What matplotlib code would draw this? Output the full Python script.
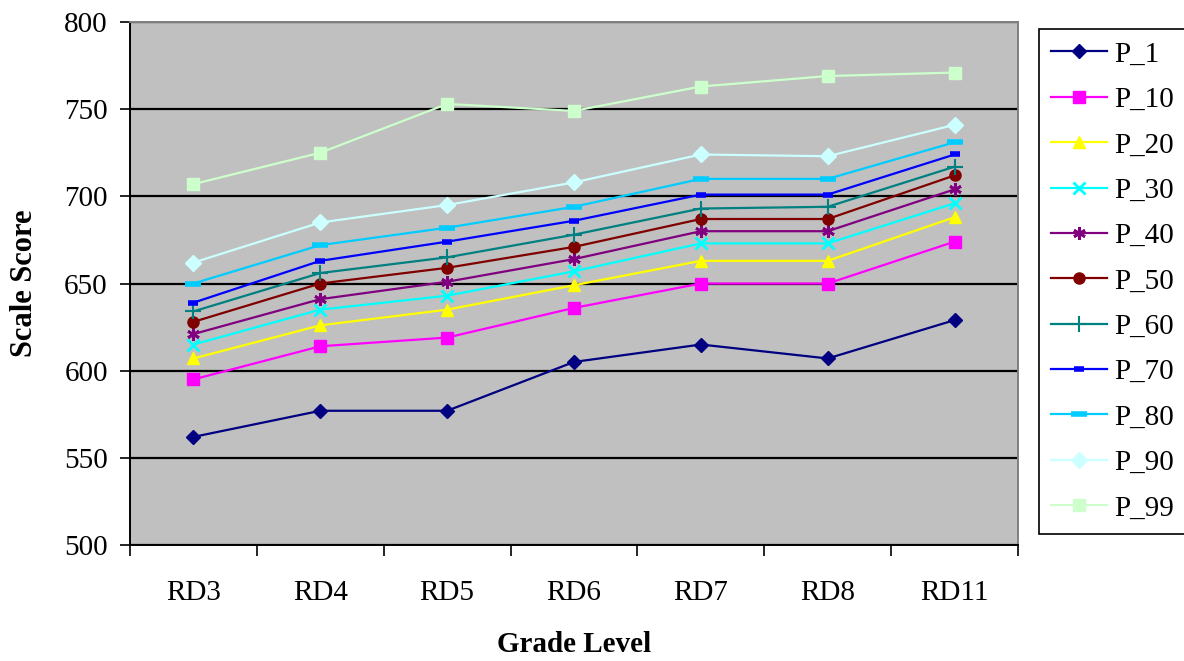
import numpy as np
import matplotlib
matplotlib.use("Agg")
import matplotlib.pyplot as plt

# grade levels on the x axis
grades = ["RD3", "RD4", "RD5", "RD6", "RD7", "RD8", "RD11"]

# percentile scale scores
p_1 = [562, 577, 577, 605, 615, 607, 629]
p_10 = [595, 614, 619, 636, 650, 650, 674]
p_20 = [607, 626, 635, 649, 663, 663, 688]
p_30 = [615, 635, 643, 657, 673, 673, 696]
p_40 = [621, 641, 651, 664, 680, 680, 704]
p_50 = [628, 650, 659, 671, 687, 687, 712]
p_60 = [634, 656, 665, 678, 693, 694, 717]
p_70 = [639, 663, 674, 686, 701, 701, 724]
p_80 = [650, 672, 682, 694, 710, 710, 731]
p_90 = [662, 685, 695, 708, 724, 723, 741]
p_99 = [707, 725, 753, 749, 763, 769, 771]

series_labels = ["P_1", "P_10", "P_20", "P_30", "P_40", "P_50",
                 "P_60", "P_70", "P_80", "P_90", "P_99"]
series_values = [p_1, p_10, p_20, p_30, p_40, p_50,
                 p_60, p_70, p_80, p_90, p_99]

# (colour, marker, marker size, marker edge width)
styles = [
    ("#000080", "D", 7, 1),
    ("#FF00FF", "s", 8, 1),
    ("#FFFF00", "^", 9, 1),
    ("#00FFFF", "x", 8, 2),
    ("#800080", (6, 2, 0), 9, 2),
    ("#800000", "o", 8, 1),
    ("#008080", "+", 11, 1.5),
    ("#0000FF", "_", 7, 4),
    ("#00CCFF", "_", 11, 4),
    ("#CCFFFF", "D", 8, 1),
    ("#CCFFCC", "s", 9, 1),
]

plt.rcParams["font.family"] = ["Liberation Serif", "DejaVu Serif"]

fig = plt.figure(figsize=(11.84, 6.61), dpi=100)
ax = fig.add_axes([130 / 1184, 1 - 545 / 661, 888 / 1184, 523 / 661])
ax.set_facecolor("#C0C0C0")

x = np.arange(len(grades))
for label, vals, (col, mk, ms, mew) in zip(series_labels, series_values, styles):
    ax.plot(x, vals, color=col, lw=1.6, marker=mk, markersize=ms,
            markerfacecolor=col, markeredgecolor=col, markeredgewidth=mew,
            label=label, zorder=3)

ax.set_xlim(-0.5, len(grades) - 0.5)
ax.set_ylim(500, 800)
ax.set_yticks(np.arange(500, 801, 50))
ax.yaxis.grid(True, color="black", lw=1.6)
ax.set_axisbelow(True)

ax.set_xticks(x)
ax.set_xticklabels(grades)
ax.set_xticks(np.arange(len(grades) + 1) - 0.5, minor=True)
ax.tick_params(axis="x", which="major", length=0, pad=25, labelsize=21)
ax.tick_params(axis="x", which="minor", length=8, width=1.2, direction="out")
ax.tick_params(axis="y", length=7, width=1.2, direction="out", labelsize=21, pad=9)

for side in ["left", "bottom"]:
    ax.spines[side].set_color("black")
    ax.spines[side].set_linewidth(1.4)
for side in ["top", "right"]:
    ax.spines[side].set_color("#808080")
    ax.spines[side].set_linewidth(1.4)

ax.set_ylabel("Scale Score", fontsize=22, fontweight="bold", labelpad=18)
ax.set_xlabel("Grade Level", fontsize=21, fontweight="bold", labelpad=18)

leg = ax.legend(loc="upper left", bbox_to_anchor=(1039 / 1184, 1 - 29 / 661),
                bbox_transform=fig.transFigure, borderaxespad=0,
                fontsize=21, handlelength=1.9, handletextpad=0.27,
                labelspacing=0.65, borderpad=0.42, fancybox=False,
                edgecolor="black", framealpha=1)
leg.get_frame().set_linewidth(1.2)

fig.savefig("out.png", dpi=100)
